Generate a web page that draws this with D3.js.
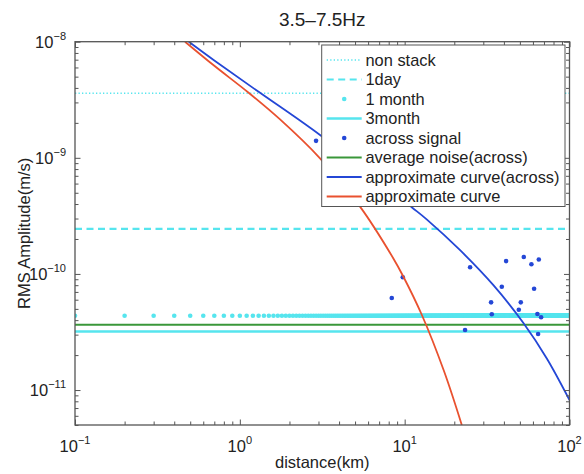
<!DOCTYPE html>
<html><head><meta charset="utf-8">
<script src="https://cdn.jsdelivr.net/npm/d3@7"></script>
<style>body{margin:0;background:#fff}svg{display:block}</style>
</head><body><svg id="c" width="584" height="474"></svg>
<script>
const title = "3.5–7.5Hz";
const xLabel = "distance(km)";
const yLabel = "RMS Amplitude(m/s)";
const xDomain = [0.1, 100];
const yDomain = [5e-12, 1e-8];
const xTickExps = [-1, 0, 1, 2];
const yTickExps = [-8, -9, -10, -11];

const nonStackLevel = 3.6e-9;
const oneDayLevel = 2.44e-10;
const oneMonthLevel = 4.37e-11;
const oneMonthStep = 0.1;      // km between the 1 month samples
const oneMonthCount = 1000;
const threeMonthLevel = 3.19e-11;
const avgNoiseLevel = 3.65e-11;

const acrossDist = [2.90, 8.35, 9.74, 23.25, 24.94, 33.44, 33.77, 38.84, 41.24, 49.25, 50.64, 52.81, 58.73, 60.99, 63.86, 64.50, 65.13, 67.26];
const acrossAmp  = [1.40e-9, 6.20e-11, 9.35e-11, 3.29e-11, 1.14e-10, 5.69e-11, 4.49e-11, 7.76e-11, 1.29e-10, 4.92e-11, 5.69e-11, 1.40e-10, 1.21e-10, 7.46e-11, 4.52e-11, 3.04e-11, 1.33e-10, 4.23e-11];

const curveAcrossDist = [0.49, 0.70, 1.30, 3.066, 11.04, 13.6, 21.69, 34.53, 52.53, 72.83, 100];
const curveAcrossAmp  = [1e-8, 6.9e-9, 3.7e-9, 1.57e-9, 3.75e-10, 2.95e-10, 1.6e-10, 8.0e-11, 3.78e-11, 1.87e-11, 8.2e-12];

const curveDist = [0.465, 0.70, 1.126, 1.754, 3.066, 5.36, 8.54, 9.74, 12.70, 17.34, 22.21];
const curveAmp  = [1e-8, 6.2e-9, 3.65e-9, 2.14e-9, 9.9e-10, 3.8e-10, 1.36e-10, 9.7e-11, 4.45e-11, 1.45e-11, 5e-12];

const legendLabels = ["non stack", "1day", "1 month", "3month", "across signal", "average noise(across)", "approximate curve(across)", "approximate curve"];

const cCyan = "#56e5ee", cBlue = "#2447d6", cRed = "#e9512f", cGreen = "#3a973a";
const axisCol = "#555", textCol = "#222";
const font = "'Liberation Sans', Arial, Helvetica, sans-serif";

const svg = d3.select("#c");
const L = 75, R = 569.5, T = 41.7, B = 425;
const x = d3.scaleLog().domain(xDomain).range([L, R]);
const y = d3.scaleLog().domain(yDomain).range([B, T]);

svg.append("defs").append("clipPath").attr("id", "clip")
  .append("rect").attr("x", L).attr("y", T).attr("width", R - L).attr("height", B - T);
const plot = svg.append("g").attr("clip-path", "url(#clip)");

function hline(level, color, width, dash) {
  plot.append("line").attr("x1", L).attr("x2", R).attr("y1", y(level)).attr("y2", y(level))
    .attr("stroke", color).attr("stroke-width", width).attr("stroke-dasharray", dash || null);
}
hline(nonStackLevel, cCyan, 1.6, "1.3,2.2");
hline(oneDayLevel, cCyan, 2.2, "7,4.5");
const monthDist = d3.range(1, oneMonthCount + 1).map(i => i * oneMonthStep);
plot.append("g").selectAll("circle").data(monthDist).join("circle")
  .attr("cx", d => x(d)).attr("cy", y(oneMonthLevel)).attr("r", 2.3).attr("fill", cCyan);
hline(threeMonthLevel, cCyan, 2.4);
plot.append("g").selectAll("circle").data(acrossDist).join("circle")
  .attr("cx", d => x(d)).attr("cy", (d, i) => y(acrossAmp[i])).attr("r", 2.3).attr("fill", cBlue);
hline(avgNoiseLevel, cGreen, 1.8);

const line = d3.line().x(d => x(d[0])).y(d => y(d[1])).curve(d3.curveCatmullRom.alpha(0.5));
plot.append("path").attr("d", line(curveAcrossDist.map((d, i) => [d, curveAcrossAmp[i]])))
  .attr("fill", "none").attr("stroke", cBlue).attr("stroke-width", 1.8);
plot.append("path").attr("d", line(curveDist.map((d, i) => [d, curveAmp[i]])))
  .attr("fill", "none").attr("stroke", cRed).attr("stroke-width", 1.8);

// axes (box with inward ticks)
const xMaj = xTickExps.map(e => Math.pow(10, e));
const xMin = x.ticks().filter(v => !xMaj.some(m => Math.abs(m - v) / m < 1e-9));
const yMaj = yTickExps.map(e => Math.pow(10, e));
const yMin = y.ticks().filter(v => !yMaj.some(m => Math.abs(m - v) / m < 1e-9));
function styleAxis(g) {
  g.select(".domain").remove();
  g.selectAll("line").attr("stroke", axisCol).attr("stroke-width", 1);
}
const axes = [
  [d3.axisBottom, x, `translate(0,${B})`, xMaj, xMin],
  [d3.axisTop, x, `translate(0,${T})`, xMaj, xMin],
  [d3.axisLeft, y, `translate(${L},0)`, yMaj, yMin],
  [d3.axisRight, y, `translate(${R},0)`, yMaj, yMin]
];
axes.forEach(([fn, sc, tr, mv, nv]) => {
  svg.append("g").attr("transform", tr).call(fn(sc).tickValues(mv).tickSize(-5.5).tickFormat("")).call(styleAxis);
  svg.append("g").attr("transform", tr).call(fn(sc).tickValues(nv).tickSize(-3.5).tickFormat("")).call(styleAxis);
});
svg.append("rect").attr("x", L).attr("y", T).attr("width", R - L).attr("height", B - T)
  .attr("fill", "none").attr("stroke", axisCol).attr("stroke-width", 1.3);

// tick labels
const expText = e => (e < 0 ? "−" + (-e) : String(e));
xTickExps.forEach(e => {
  const t = svg.append("text").attr("x", x(Math.pow(10, e))).attr("y", 452)
    .attr("text-anchor", "middle").attr("font-family", font).attr("fill", textCol).attr("font-size", 16.5);
  t.append("tspan").text("10");
  t.append("tspan").attr("dy", -8).attr("font-size", 11).text(expText(e));
});
yTickExps.forEach(e => {
  const t = svg.append("text").attr("x", 66).attr("y", y(Math.pow(10, e)) + 6)
    .attr("text-anchor", "end").attr("font-family", font).attr("fill", textCol).attr("font-size", 16.5);
  t.append("tspan").text("10");
  t.append("tspan").attr("dy", -8).attr("font-size", 11).text(expText(e));
});

svg.append("text").attr("x", (L + R) / 2).attr("y", 26).attr("text-anchor", "middle")
  .attr("font-family", font).attr("font-size", 19).attr("fill", textCol).text(title);
svg.append("text").attr("x", (L + R) / 2).attr("y", 468).attr("text-anchor", "middle")
  .attr("font-family", font).attr("font-size", 16.5).attr("fill", textCol).text(xLabel);
svg.append("text").attr("transform", `translate(30,${(T + B) / 2}) rotate(-90)`).attr("text-anchor", "middle")
  .attr("font-family", font).attr("font-size", 16.5).attr("fill", textCol).text(yLabel);

// legend
const lg = svg.append("g");
lg.append("rect").attr("x", 321.7).attr("y", 45).attr("width", 243.3).attr("height", 161.5)
  .attr("fill", "#fff").attr("stroke", "#555").attr("stroke-width", 1);
const rowY = i => 60 + i * 19.5;
const sx1 = 326.7, sx2 = 361.7, tx = 365.5;
const styles = [
  {type: "line", c: cCyan, w: 1.6, dash: "1.3,2.2"},
  {type: "line", c: cCyan, w: 2.2, dash: "7,4.5"},
  {type: "dot", c: cCyan, r: 2.3},
  {type: "line", c: cCyan, w: 2.4},
  {type: "dot", c: cBlue, r: 2.3},
  {type: "line", c: cGreen, w: 1.8},
  {type: "line", c: cBlue, w: 1.8},
  {type: "line", c: cRed, w: 1.8}
];
legendLabels.forEach((lab, i) => {
  const s = styles[i], yy = rowY(i);
  if (s.type === "line") {
    lg.append("line").attr("x1", sx1).attr("x2", sx2).attr("y1", yy).attr("y2", yy)
      .attr("stroke", s.c).attr("stroke-width", s.w).attr("stroke-dasharray", s.dash || null);
  } else {
    lg.append("circle").attr("cx", (sx1 + sx2) / 2).attr("cy", yy).attr("r", s.r).attr("fill", s.c);
  }
  lg.append("text").attr("x", tx).attr("y", yy + 5.8).attr("font-family", font).attr("font-size", 16.4)
    .attr("fill", textCol).text(lab);
});
</script></body></html>
